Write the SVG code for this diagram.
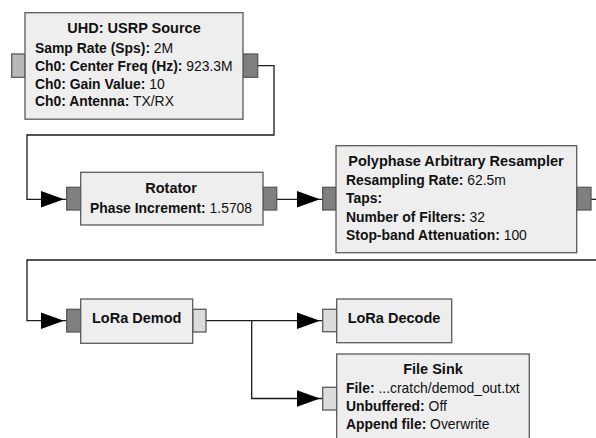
<svg xmlns="http://www.w3.org/2000/svg" width="596" height="438" viewBox="0 0 596 438">
<defs>
<style>
.blk{fill:#eeeeee;stroke:#5a5a5a;stroke-width:1.3}
.pd{fill:#7f7f7f;stroke:#5a5a5a;stroke-width:1.3}
.pl{fill:#dcdcdc;stroke:#5a5a5a;stroke-width:1.3}
.pm{fill:#b8b8b8;stroke:#5a5a5a;stroke-width:1.3}
text{font-family:"Liberation Sans",Arial,Helvetica,sans-serif;font-size:13.9px;fill:#111}
.t{font-weight:bold;text-anchor:middle;font-size:14.5px}
.b{font-weight:bold}
.w{fill:none;stroke:#1a1a1a;stroke-width:1.3}
.ah{fill:#000}
</style>
</defs>
<rect width="596" height="438" fill="#ffffff"/>
<g id="connectors">
<polyline class="w" points="257.7,65.7 274,65.7 274,135 27,135 27,199.3 64,199.3"/>
<polyline class="w" points="64,199.3 66.7,199.3"/>
<polygon class="ah" points="41,191 64,199.3 41,207.5"/>
<polyline class="w" points="276.7,199.3 322.7,199.3"/>
<polygon class="ah" points="297,191 320,199.3 297,207.5"/>
<polyline class="w" points="591,199.3 596,199.3"/>
<polyline class="w" points="596,260 27,260 27,320.7 66.7,320.7"/>
<polygon class="ah" points="41,312.4 64,320.7 41,329"/>
<polyline class="w" points="206,320.7 322.7,320.7"/>
<polygon class="ah" points="297,312.4 320,320.7 297,329"/>
<polyline class="w" points="251.7,320.7 251.7,398.5 322.7,398.5"/>
<polygon class="ah" points="297,390.2 320,398.5 297,406.8"/>
</g>
<g id="uhd">
<rect class="pm" x="11.7" y="54" width="13.3" height="23.3"/>
<rect class="pd" x="243" y="54" width="14.7" height="23.3"/>
<rect class="blk" x="25" y="12.7" width="218" height="106.5"/>
<text class="t" x="134" y="33">UHD: USRP Source</text>
<text x="35" y="52.5"><tspan class="b">Samp Rate (Sps):</tspan> 2M</text>
<text x="35" y="71"><tspan class="b">Ch0: Center Freq (Hz):</tspan> 923.3M</text>
<text x="35" y="88.5"><tspan class="b">Ch0: Gain Value:</tspan> 10</text>
<text x="35" y="106"><tspan class="b">Ch0: Antenna:</tspan> TX/RX</text>
</g>
<g id="rotator">
<rect class="pd" x="66.7" y="187.3" width="14" height="22.7"/>
<rect class="pd" x="263" y="187.3" width="13.7" height="22.7"/>
<rect class="blk" x="80.7" y="172.3" width="182.3" height="52.7"/>
<text class="t" x="171" y="192.7">Rotator</text>
<text x="171" y="212.7" text-anchor="middle"><tspan class="b">Phase Increment:</tspan> 1.5708</text>
</g>
<g id="resampler">
<rect class="pd" x="322.7" y="187.3" width="13.3" height="22.7"/>
<rect class="pd" x="576.7" y="187.3" width="14.3" height="22.7"/>
<rect class="blk" x="336" y="145.7" width="240.7" height="107"/>
<text class="t" x="456" y="166">Polyphase Arbitrary Resampler</text>
<text x="346" y="184.5"><tspan class="b">Resampling Rate:</tspan> 62.5m</text>
<text x="346" y="203"><tspan class="b">Taps:</tspan></text>
<text x="346" y="221.5"><tspan class="b">Number of Filters:</tspan> 32</text>
<text x="346" y="240"><tspan class="b">Stop-band Attenuation:</tspan> 100</text>
</g>
<g id="demod">
<rect class="pd" x="66.7" y="309.3" width="14" height="22.7"/>
<rect class="pl" x="192.7" y="309.3" width="13.3" height="22.7"/>
<rect class="blk" x="80.7" y="299" width="112" height="44.3"/>
<text class="t" x="136.7" y="323">LoRa Demod</text>
</g>
<g id="decode">
<rect class="pl" x="322.7" y="309.3" width="14" height="22.4"/>
<rect class="blk" x="336.7" y="299" width="115" height="43.7"/>
<text class="t" x="394" y="323.3">LoRa Decode</text>
</g>
<g id="filesink">
<rect class="pl" x="322.7" y="387.3" width="14" height="22.7"/>
<rect class="blk" x="336.7" y="354" width="192.6" height="100"/>
<text class="t" x="433" y="374">File Sink</text>
<text x="346" y="393.3"><tspan class="b">File:</tspan> ...cratch/demod_out.txt</text>
<text x="346" y="411"><tspan class="b">Unbuffered:</tspan> Off</text>
<text x="346" y="429.3"><tspan class="b">Append file:</tspan> Overwrite</text>
</g>
</svg>
